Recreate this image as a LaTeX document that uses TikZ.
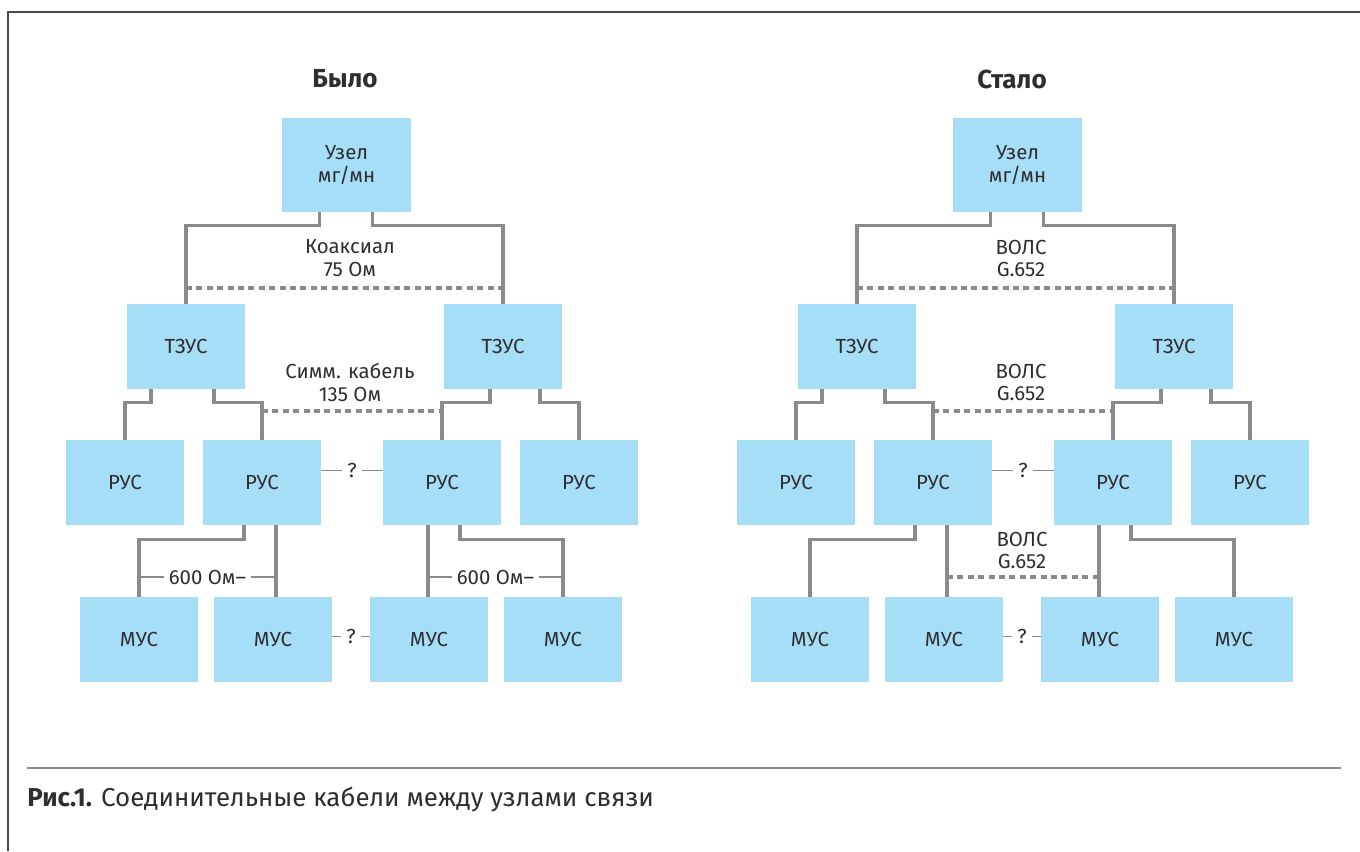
\documentclass[tikz,border=0pt]{standalone}
\usepackage{fontspec}
\setmainfont{Fira Sans}
\usetikzlibrary{calc}
\definecolor{boxblue}{HTML}{A6DDF7}
\definecolor{linegray}{HTML}{8A8A8D}
\definecolor{textgray}{HTML}{2E2E30}
\definecolor{framegray}{HTML}{4A4A4A}
\newcommand\lblfont{\fontsize{14.5}{16.3}\selectfont}
\newcommand\ttlfont{\fontsize{18.5}{21}\selectfont\bfseries}
\newcommand\capfont{\fontsize{18.4}{21}\selectfont}
\tikzset{
  box/.style={fill=boxblue, inner sep=0pt, minimum width=2.95cm,
    minimum height=2.125cm, text=textgray, font=\lblfont, align=center},
  link/.style={linegray, line width=2.5pt},
  cable/.style={linegray, line width=2.4pt, dash pattern=on 0.15cm off 0.11cm},
  thinlink/.style={linegray, line width=1.2pt},
  qmark/.style={fill=white, inner xsep=3.5pt, inner ysep=1pt, text=textgray, font=\lblfont},
  cablelabel/.style={text=textgray, font=\lblfont, align=center, inner sep=0pt},
  title/.style={text=textgray, font=\ttlfont}
}
\begin{document}
\begin{tikzpicture}[x=0.025cm, y=-0.025cm]
  \useasboundingbox (0,0) rectangle (1360,851);
  % Рамка
  \draw[framegray, line width=1.1pt] (8,851) -- (8,12) -- (1360,12);
  % Заголовки
  \node[title] (ttlA) at (345,79) {Было};
  \node[title] (ttlB) at (1012,79) {Стало};
  % Узлы мг/мн
  \foreach \s/\xi in {A/346.5, B/1017.5}
    \node[box, minimum width=3.225cm, minimum height=2.35cm]
      (uz\s) at (\xi,165) {Узел\\мг/мн};
  % ТЗУС
  \foreach \nm/\xi in {tzA1/186, tzA2/503, tzB1/857, tzB2/1174}
    \node[box] (\nm) at (\xi,346.5) {ТЗУС};
  % РУС
  \foreach \nm/\xi in {rsA1/125, rsA2/262, rsA3/442, rsA4/579,
                       rsB1/796, rsB2/933, rsB3/1113, rsB4/1250}
    \node[box] (\nm) at (\xi,482.5) {РУС};
  % МУС
  \foreach \nm/\xi in {muA1/139, muA2/273, muA3/429, muA4/563,
                       muB1/810, muB2/944, muB3/1100, muB4/1234}
    \node[box] (\nm) at (\xi,639.5) {МУС};
  % Соединения
  \foreach \s in {A,B}{
    \draw[link] ($(uz\s.south)+(-27,0)$) -- ++(0,13) -| (tz\s1.north);
    \draw[link] ($(uz\s.south)+(26,0)$) -- ++(0,13) -| (tz\s2.north);
    \draw[link] ($(tz\s1.south)+(-35,0)$) -- ++(0,13) -| (rs\s1.north);
    \draw[link] ($(tz\s1.south)+(28,0)$) -- ++(0,13) -| (rs\s2.north);
    \draw[link] ($(tz\s2.south)+(-13,0)$) -- ++(0,13) -| (rs\s3.north);
    \draw[link] ($(tz\s2.south)+(37,0)$) -- ++(0,13) -| (rs\s4.north);
    \draw[link] ($(rs\s2.south)+(-18,0)$) -- ++(0,14) -| (mu\s1.north);
    \draw[link] ($(rs\s2.south)+(14,0)$) coordinate (v\s2) -- (v\s2 |- mu\s2.north);
    \draw[link] ($(rs\s3.south)+(-14,0)$) coordinate (v\s3) -- (v\s3 |- mu\s3.north);
    \draw[link] ($(rs\s3.south)+(18,0)$) -- ++(0,14) -| (mu\s4.north);
    % Кабели
    \draw[cable] (tz\s1.north |- 0,288) -- (tz\s2.north |- 0,288);
    \draw[cable] (rs\s2.north |- 0,411) -- (rs\s3.north |- 0,411);
    % Неизвестные связи
    \draw[thinlink] ($(rs\s2.east)+(0,-12)$) -- node[qmark] (q\s1) {?} ($(rs\s3.west)+(0,-12)$);
    \draw[thinlink] ($(mu\s2.east)+(0,-3)$) -- node[qmark] (q\s2) {?} ($(mu\s3.west)+(0,-3)$);
  }
  \draw[thinlink] (muA1.north |- 0,577) -- node[qmark] (ohmA1) {600 Ом–} (vA2 |- 0,577);
  \draw[thinlink] (vA3 |- 0,577) -- node[qmark] (ohmA2) {600 Ом–} (muA4.north |- 0,577);
  \draw[cable] (vB2 |- 0,577) -- (vB3 |- 0,577);
  % Подписи
  \node[cablelabel] (lkA) at (350,258.5) {Коаксиал\\75 Ом};
  \node[cablelabel] (lsA) at (350,382.5) {Симм. кабель\\135 Ом};
  \node[cablelabel] (lkB) at (1021,258.5) {ВОЛС\\G.652};
  \node[cablelabel] (lsB) at (1021,382.5) {ВОЛС\\G.652};
  \node[cablelabel] (lmB) at (1022,550.5) {ВОЛС\\G.652};
  % Подпись рисунка
  \draw[linegray, line width=1.4pt] (27,768) -- (1341,768);
  \node[anchor=base west, inner sep=0pt, text=textgray, font=\capfont] (cap) at (27,806)
    {\textbf{Рис.1.} Соединительные кабели между узлами связи};
\end{tikzpicture}
\end{document}
